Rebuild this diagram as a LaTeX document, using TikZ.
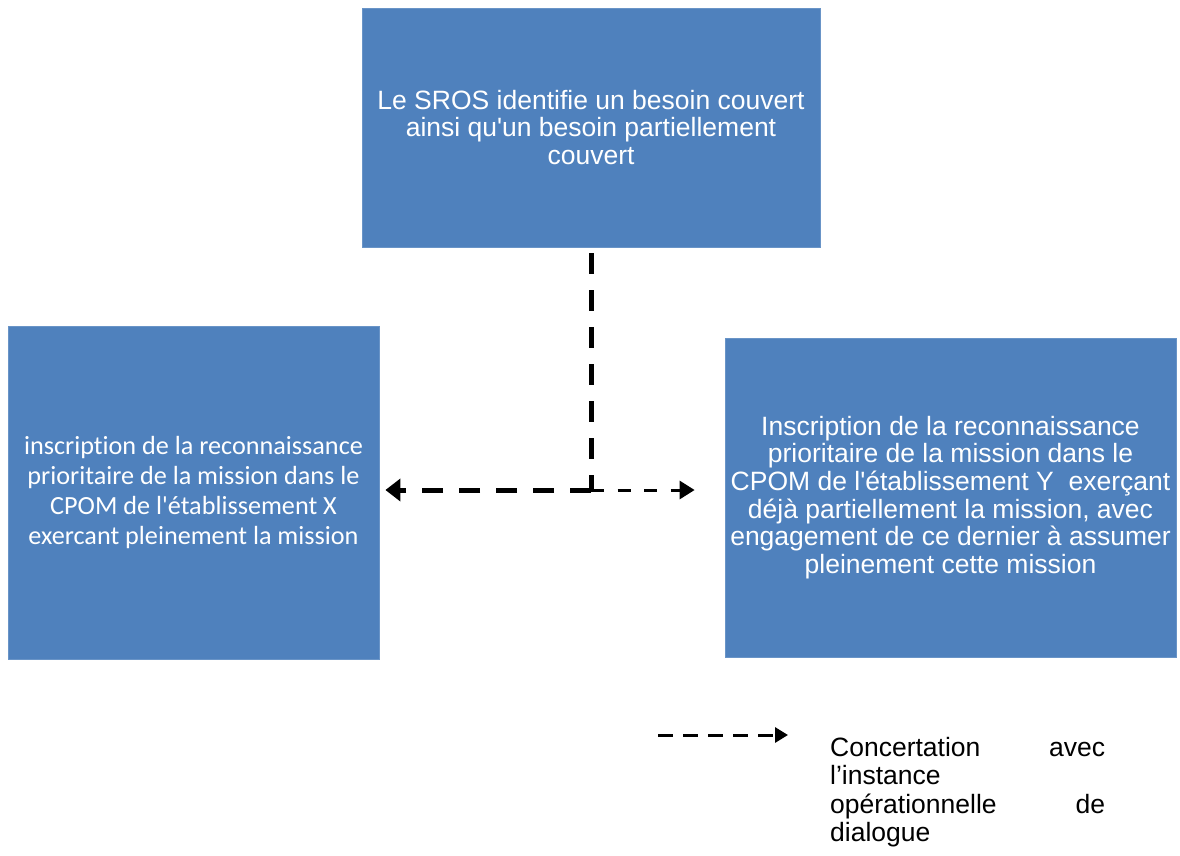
\documentclass[tikz,border=0pt]{standalone}
\usepackage{fontspec}
\newfontfamily\arialfont{Liberation Sans}
\newfontfamily\califont[Ligatures=NoCommon]{Carlito}
\usetikzlibrary{arrows.meta}
\definecolor{boxblue}{RGB}{79,129,189}
\tikzset{
  bluebox/.style={rectangle, fill=boxblue, draw=boxblue!85!white, line width=0.8pt, inner sep=0pt, text=white, align=center},
  arialtxt/.style={font=\arialfont\fontsize{26.5pt}{27.6pt}\selectfont},
  legtxt/.style={font=\arialfont\fontsize{26.5pt}{28.4pt}\selectfont},
  calitxt/.style={font=\califont\fontsize{26.2pt}{29.7pt}\selectfont},
  bigdash/.style={line width=5pt, dash pattern=on 21pt off 16pt},
  smalldash/.style={line width=3pt, dash pattern=on 13pt off 13.5pt},
  legdash/.style={line width=3pt, dash pattern=on 15pt off 10pt},
}
\begin{document}
\begin{tikzpicture}[x=1pt,y=-1pt]
\useasboundingbox (0,0) rectangle (1180,855);
\node[bluebox, arialtxt, minimum width=458pt, minimum height=239pt] (top) at (591,127.5)
  {Le SROS identifie un besoin couvert\\ainsi qu'un besoin partiellement\\couvert};
\node[bluebox, calitxt, minimum width=371pt, minimum height=333pt] (left) at (193.5,492.5)
  {inscription de la reconnaissance\\prioritaire de la mission dans le\\CPOM de l'établissement X\\exercant pleinement la mission};
\node[bluebox, arialtxt, minimum width=451pt, minimum height=319pt] (right) at (950.5,497.5)
  {Inscription de la reconnaissance\\prioritaire de la mission dans le\\CPOM de l'établissement Y\ \ exerçant\\déjà partiellement la mission, avec\\engagement de ce dernier à assumer\\pleinement cette mission};
\coordinate (j) at (591,490);
\draw[bigdash] ([yshift=-6pt]top.south) -- (j);
\draw[bigdash, -{Triangle[length=15pt,width=22pt]}] (j) -- ([xshift=6pt]left.east |- j);
\draw[smalldash, -{Triangle[length=15pt,width=18pt]}] (j) -- ([xshift=-30pt]right.west |- j);
% legend
\coordinate (la) at (658,735);
\coordinate (lb) at (788,735);
\draw[legdash, -{Triangle[length=13pt,width=15pt]}] (la) -- (lb);
\node[legtxt, anchor=north west, inner sep=0pt, text width=275pt, align=left] (leg) at (830,737)
  {Concertation\hfill avec\\l’instance\\opérationnelle\hfill de\\dialogue};
\end{tikzpicture}
\end{document}
